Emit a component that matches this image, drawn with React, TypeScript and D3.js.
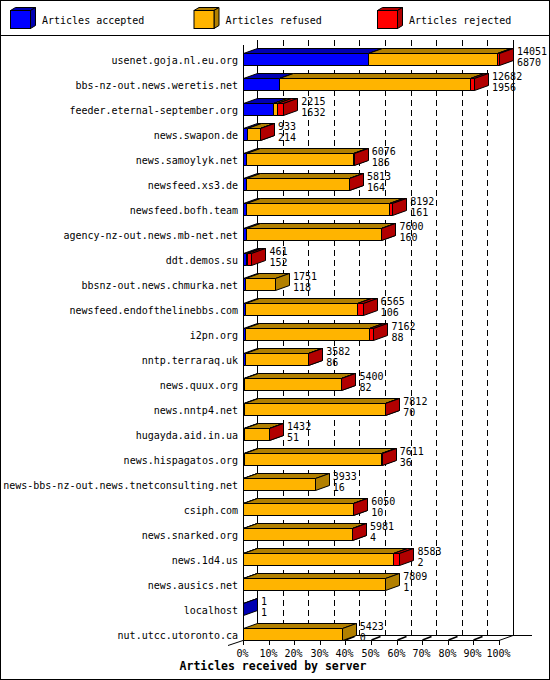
import React, { useEffect, useRef } from 'react';
import { select, scaleBand, scaleLinear } from 'd3';

// one row per peer, sorted by accepted articles
const servers = [
  'usenet.goja.nl.eu.org',
  'bbs-nz-out.news.weretis.net',
  'feeder.eternal-september.org',
  'news.swapon.de',
  'news.samoylyk.net',
  'newsfeed.xs3.de',
  'newsfeed.bofh.team',
  'agency-nz-out.news.mb-net.net',
  'ddt.demos.su',
  'bbsnz-out.news.chmurka.net',
  'newsfeed.endofthelinebbs.com',
  'i2pn.org',
  'nntp.terraraq.uk',
  'news.quux.org',
  'news.nntp4.net',
  'hugayda.aid.in.ua',
  'news.hispagatos.org',
  'news-bbs-nz-out.news.tnetconsulting.net',
  'csiph.com',
  'news.snarked.org',
  'news.1d4.us',
  'news.ausics.net',
  'localhost',
  'nut.utcc.utoronto.ca',
];
const offered = [14051, 12682, 2215, 933, 6076, 5813, 8192, 7600, 461, 1751, 6565, 7162, 3582, 5400, 7812, 1432, 7611, 3933, 6050, 5981, 8583, 7809, 1, 5423];
const accepted = [6870, 1956, 1632, 214, 186, 164, 161, 160, 152, 118, 106, 88, 86, 82, 70, 51, 36, 16, 10, 4, 2, 1, 1, 0];
const rejected = [100, 230, 365, 15, 20, 10, 160, 30, 230, 0, 290, 220, 10, 10, 20, 10, 20, 0, 20, 20, 330, 0, 0, 0];
const pctTicks = [0, 10, 20, 30, 40, 50, 60, 70, 80, 90, 100];

const legend = [
  { label: 'Articles accepted', color: '#0000ff', dark: '#0000b2' },
  { label: 'Articles refused', color: '#ffb400', dark: '#b28000' },
  { label: 'Articles rejected', color: '#ff0000', dark: '#b20000' },
];

const W = 550;
const H = 680;
const DX = 14;
const DY = -5;
const FONT = "'DejaVu Sans Mono', 'Liberation Mono', monospace";

export default function App() {
  const svgRef = useRef<SVGSVGElement>(null);

  useEffect(() => {
    document.body.style.margin = '0';
    if (!svgRef.current) return;
    const svg = select(svgRef.current);
    svg.selectAll('*').remove();

    const left = 243;
    const right = 499;
    const floorY = 640;

    const x = scaleLinear().domain([0, Math.max(...offered)]).range([left, right]);
    const xp = scaleLinear().domain([0, 100]).range([left, right]);
    const y = scaleBand<string>().domain(servers).range([46.5, 646.5]).paddingInner(0.52).paddingOuter(0.26);
    const bh = y.bandwidth();

    svg.append('rect').attr('x', 0.5).attr('y', 0.5).attr('width', W - 1).attr('height', H - 1)
      .attr('fill', 'white').attr('stroke', 'black');

    // legend
    const lg = svg.append('g');
    legend.forEach((d, i) => {
      const lx = 10.5 + i * 183.5;
      const ly = 10.5;
      const w = 20, h = 18, dx = 5, dy = -3;
      lg.append('polygon')
        .attr('points', [[lx, ly], [lx + dx, ly + dy], [lx + w + dx, ly + dy], [lx + w, ly]].join(' '))
        .attr('fill', d.dark).attr('stroke', 'black');
      lg.append('polygon')
        .attr('points', [[lx + w, ly], [lx + w + dx, ly + dy], [lx + w + dx, ly + h + dy], [lx + w, ly + h]].join(' '))
        .attr('fill', d.dark).attr('stroke', 'black');
      lg.append('rect').attr('x', lx).attr('y', ly).attr('width', w).attr('height', h)
        .attr('fill', d.color).attr('stroke', 'black');
      lg.append('text').attr('x', lx + 31.5).attr('y', 23.5)
        .attr('font-family', FONT).attr('font-size', 10).text(d.label);
    });
    svg.append('line').attr('x1', 0).attr('x2', W).attr('y1', 35.5).attr('y2', 35.5).attr('stroke', 'black');

    // back wall and dashed grid
    const back = svg.append('g').attr('shape-rendering', 'crispEdges');
    pctTicks.forEach(t => {
      const gx = Math.round(xp(t) + DX) + 0.5;
      back.append('line').attr('x1', gx).attr('x2', gx).attr('y1', 40).attr('y2', floorY + DY)
        .attr('stroke', 'black')
        .attr('stroke-dasharray', t === 0 || t === 100 ? null : '6,4');
    });

    // floor
    const fl = svg.append('g').attr('stroke', 'black').attr('fill', 'none');
    fl.append('line').attr('x1', left + DX).attr('x2', right + DX + 19).attr('y1', floorY + DY + 0.5).attr('y2', floorY + DY + 0.5);
    fl.append('line').attr('x1', left).attr('x2', right).attr('y1', floorY + 0.5).attr('y2', floorY + 0.5);
    fl.append('line').attr('x1', right).attr('x2', right + DX).attr('y1', floorY + 0.5).attr('y2', floorY + DY + 0.5);
    fl.append('line').attr('x1', left).attr('x2', left - 15).attr('y1', floorY + 0.5).attr('y2', floorY + 5.5);
    fl.append('line').attr('x1', left + 0.5).attr('x2', left + 0.5).attr('y1', 45).attr('y2', floorY)
      .attr('shape-rendering', 'crispEdges');

    // bottom ticks
    pctTicks.forEach(t => {
      const tx = Math.round(xp(t)) + 0.5;
      fl.append('line').attr('x1', tx).attr('x2', tx).attr('y1', floorY).attr('y2', floorY + 5)
        .attr('shape-rendering', 'crispEdges');
      if (t > 0 && t < 100) {
        fl.append('line').attr('x1', tx).attr('x2', tx + 9).attr('y1', floorY).attr('y2', floorY - 3.5)
          .attr('stroke-width', 1.6);
      }
      svg.append('text').attr('x', tx - 1).attr('y', 657).attr('text-anchor', 'middle')
        .attr('font-family', FONT).attr('font-size', 10).text(`${t}%`);
    });

    // bars
    const bars = svg.append('g');
    const box = (x0: number, x1: number, top: number, fill: string, dark: string) => {
      bars.append('polygon')
        .attr('points', [[x0, top], [x0 + DX, top + DY], [x1 + DX, top + DY], [x1, top]].join(' '))
        .attr('fill', dark).attr('stroke', 'black');
      bars.append('polygon')
        .attr('points', [[x1, top], [x1 + DX, top + DY], [x1 + DX, top + bh + DY], [x1, top + bh]].join(' '))
        .attr('fill', dark).attr('stroke', 'black');
      bars.append('polygon')
        .attr('points', [[x0, top], [x1, top], [x1, top + bh], [x0, top + bh]].join(' '))
        .attr('fill', fill).attr('stroke', 'black');
    };

    servers.forEach((s, i) => {
      const top = (y(s) || 0) + 0.5;
      const refused = offered[i] - accepted[i] - rejected[i];
      const parts = [accepted[i], refused, rejected[i]];
      let acc = 0;
      parts.forEach((v, k) => {
        if (v <= 0) return;
        const x0 = Math.round(x(acc)) + 0.5;
        acc += v;
        const x1 = Math.max(x0, Math.round(x(acc)) + 0.5);
        box(x0, x1, top, legend[k].color, legend[k].dark);
      });

      const lx = x(offered[i]) + DX + 4;
      svg.append('text').attr('x', lx).attr('y', top + 1.5)
        .attr('font-family', FONT).attr('font-size', 10).text(offered[i]);
      svg.append('text').attr('x', lx).attr('y', top + 12)
        .attr('font-family', FONT).attr('font-size', 10).text(accepted[i]);
      svg.append('text').attr('x', 238).attr('y', top + 10).attr('text-anchor', 'end')
        .attr('font-family', FONT).attr('font-size', 10).text(s);
    });

    svg.append('text').attr('x', 273).attr('y', 670).attr('text-anchor', 'middle')
      .attr('font-family', FONT).attr('font-size', 11.5).attr('font-weight', 'bold')
      .text('Articles received by server');
  }, []);

  return <svg ref={svgRef} width={W} height={H} style={{ display: 'block' }} />;
}
